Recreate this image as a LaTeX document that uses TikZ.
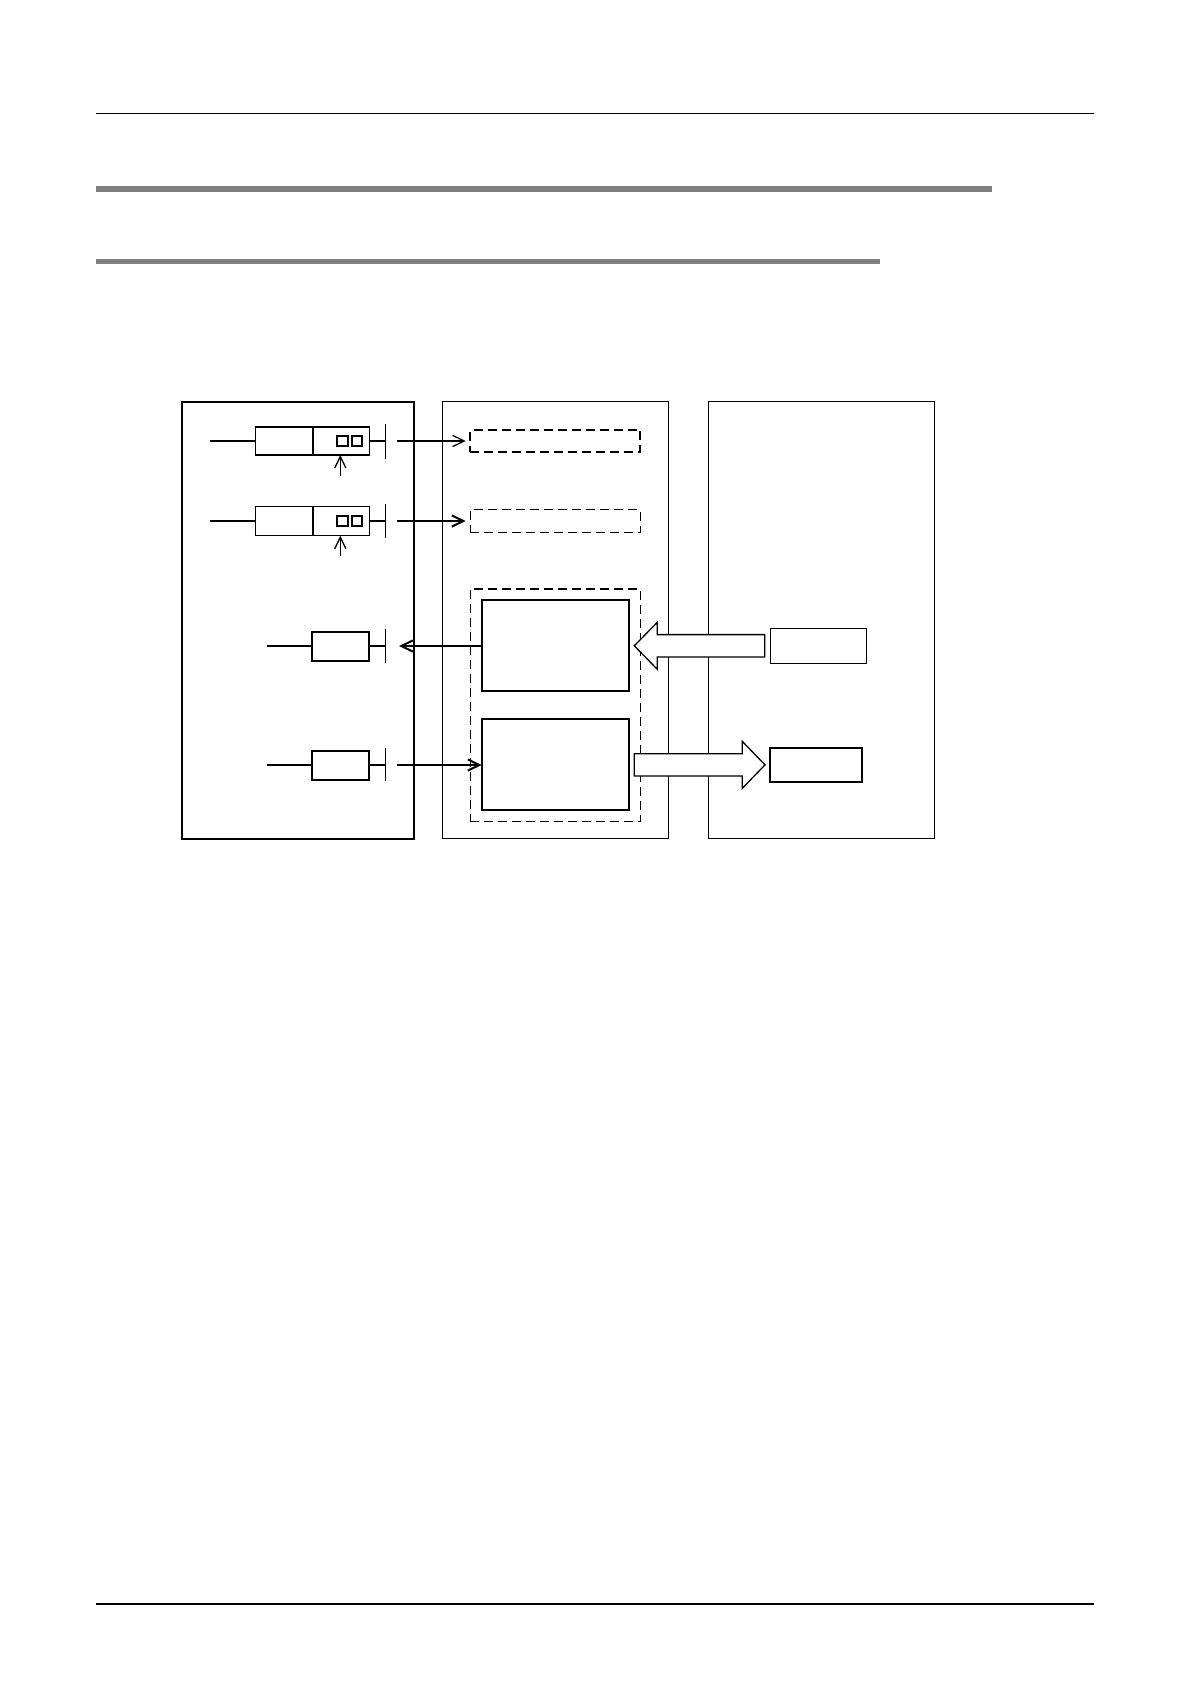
\documentclass[tikz,border=0pt]{standalone}
\usetikzlibrary{arrows.meta}

\begin{document}
\begin{tikzpicture}[x=.5bp,y=-.5bp]
	\tikzset{
	sz/.style 2 args={minimum width=#1*.5bp,minimum height=#2*.5bp},
	box/.style={draw,inner sep=0pt,outer sep=0pt,line width=.65bp},
	bold/.style={line width=1bp},
	dsh/.style={box,dash pattern=on 4.5bp off 2.5bp},
	wire/.style={line width=.65bp},
	arr/.style={wire,-{Straight Barb[length=5.8bp,width=5.6bp]}},
	fat/.style={draw,fill=white,line width=.65bp,line join=miter}
	}
	\useasboundingbox (0,0) rectangle (1190,1684);
	% page rules
	\draw[line width=.7bp] (96,113.3)--(1093.7,113.3) (96,1604)--(1093.7,1604);
	\draw[line width=2.8bp,gray] (96,189)--(992,189);
	\draw[line width=2.5bp,gray] (96,261.5)--(880,261.5);
	% three panels
	\path
	(297.85,620.35) node[box,bold,sz={232.3}{437.3}](plc){}
	(555.5,620.1) node[box,sz={226.4}{437.2}](mem){}
	(821.5,620.1) node[box,sz={225.6}{437.2}](dev){}
	;
	% ladder side
	\path
	(312.5,441) node[box,sz={113.6}{28}](k1){}
	(342.5,441) node[box,bold,sz={10.5}{10.5}](k1a){}
	(357,441) node[box,bold,sz={10.5}{10.5}](k1b){}
	(312.5,521) node[box,sz={113.6}{29.3}](k2){}
	(342.5,521) node[box,bold,sz={10.5}{10.5}](k2a){}
	(357,521) node[box,bold,sz={10.5}{10.5}](k2b){}
	(340.5,646) node[box,bold,sz={57.6}{29}](c1){}
	(340.5,765) node[box,bold,sz={57.6}{29}](c2){}
	;
	\coordinate (w1) at (210,441);
	\coordinate (w2) at (210,521);
	\coordinate (w3) at (266.7,646);
	\coordinate (w4) at (266.7,765);
	\coordinate (b1) at (385.7,441);
	\coordinate (b2) at (385.7,521);
	\coordinate (b3) at (385.7,646);
	\coordinate (b4) at (385.7,765);
	\coordinate (a1) at (397,441);
	\coordinate (a2) at (397,521);
	\coordinate (a3) at (399,646);
	\coordinate (a4) at (397,765);
	\coordinate (u1) at (340.3,475.7);
	\coordinate (u2) at (340.3,555.5);
	% memory side
	\path
	(555.3,441) node[dsh,bold,sz={170}{22.3}](d1){}
	(555.3,521) node[dsh,sz={170}{23}](d2){}
	(555.3,705.35) node[dsh,sz={170}{232.7}](grp){}
	(555.5,645.65) node[box,bold,sz={147.6}{90.7}](m1){}
	(555.35,764.8) node[box,bold,sz={147.3}{91}](m2){}
	(818.5,645.8) node[box,sz={96.4}{35}](r1){}
	(815.9,764.85) node[box,bold,sz={91.2}{34.3}](r2){}
	;
	\draw[wire]
	(w1)--(k1.west) (k1.east)--(b1)
	(w3)--(c1.west) (c1.east)--(b3)
	(b1)++(0,-17)--++(0,34.7)
	(b3)++(0,-16.7)--++(0,33.4)
	(b4)++(0,-17)--++(0,33)
	(b2)++(0,-17)--++(0,34)
	;
	\draw[bold] (w2)--(k2.west) (k2.east)--(b2) (w4)--(c2.west) (c2.east)--(b4)
	(k1.north)--(k1.south) (k2.north)--(k2.south);
	\draw[arr] (a1)--([xshift=-2.3bp]d1.west);
	\draw[arr,bold] (a2)--([xshift=-2.3bp]d2.west);
	\draw[arr,bold] (m1.west|-a3)--(a3);
	\draw[arr,bold] (a4)--(m2.west|-a4);
	\draw[arr] (u1)--(u1|-k1.south);
	\draw[arr] (u2)--(u2|-k2.south);
	% block arrows
	\draw[fat] ([xshift=2.5bp]m1.east|-r1.west) -- ++(23,-23.5) -- ++(0,12.3) -- ++(107.4,0)
	-- ++(0,22.4) -- ++(-107.4,0) -- ++(0,12.3) -- cycle;
	\draw[fat] ([xshift=-2.65bp]r2.west) -- ++(-22.7,-23.5) -- ++(0,12.3) -- ++(-108,0)
	-- ++(0,22.4) -- ++(108,0) -- ++(0,12.3) -- cycle;
\end{tikzpicture}
\end{document}
